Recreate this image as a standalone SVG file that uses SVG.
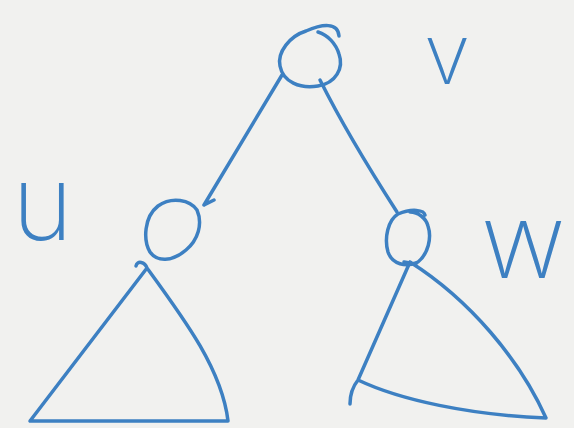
<svg xmlns="http://www.w3.org/2000/svg" width="574" height="428" viewBox="0 0 574 428">
<style>
.ink{fill:none;stroke:#3d80c2;stroke-width:3.5;stroke-linecap:round;stroke-linejoin:round}
.lbl{fill:#3d80c2;font-family:Inter,"Open Sans","Liberation Sans",sans-serif;font-weight:200;font-size:104px}
</style>
<rect width="574" height="428" fill="#f1f1ef"/>
<g id="connectors">
<path class="ink" d="M282,75 L204,205 M204,205 L214,200"/>
<path class="ink" d="M320,80 C340,120 370,170 397,212"/>
</g>
<g id="node-v">
<path class="ink" d="M306,31 C322,24 338,22 339,36 M306,31 C290,36 277,52 280,66 C283,82 300,89 318,86 C336,83 344,68 339,54 C336,44 328,35 318,32"/>
<text class="lbl" x="424" y="84" style="font-size:84px">v</text>
</g>
<g id="node-u">
<path class="ink" d="M197,210 C190,200 172,196 158,206 C144,217 143,240 150,252 C157,262 172,262 186,250 C198,240 203,224 197,210"/>
<text class="lbl" x="12" y="240">u</text>
</g>
<g id="node-w">
<path class="ink" d="M398,214 C412,208 424,210 425,215 M398,214 C388,220 384,238 388,252 C392,264 406,268 418,262 C428,254 432,238 428,226 C426,218 418,212 410,212"/>
<text class="lbl" x="481" y="278">w</text>
</g>
<g id="subtree-u">
<path class="ink" d="M136,266 C137,260 145,262 147,268 L30,421 L228,421 C222,370 185,320 147,268"/>
</g>
<g id="subtree-w">
<path class="ink" d="M410,262 L358,380 C350,390 350,400 350,404 M358,380 C400,400 470,415 546,418 C520,360 470,300 410,262 M404,262 L416,264"/>
</g>
</svg>
